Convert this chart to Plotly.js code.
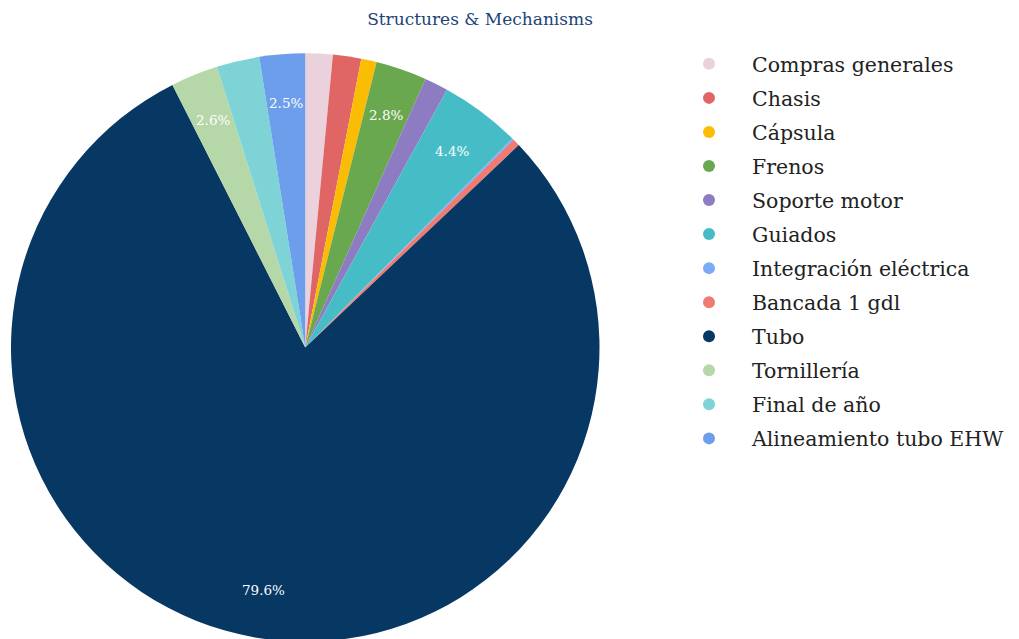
<!DOCTYPE html>
<html>
<head>
<meta charset="utf-8">
<script src="https://cdn.plot.ly/plotly-3.0.1.min.js"></script>
<style>
html,body{margin:0;padding:0;overflow:hidden;background:#fff;}
#chart{width:1019px;height:642px;}
</style>
</head>
<body>
<div id="chart"></div>
<script>
const categories = ["Compras generales","Chasis","Cápsula","Frenos","Soporte motor","Guiados","Integración eléctrica","Bancada 1 gdl","Tubo","Tornillería","Final de año","Alineamiento tubo EHW"];
const shares = [1.5, 1.55, 0.85, 2.8, 1.3, 4.42, 0.1, 0.4, 79.6, 2.6, 2.35, 2.5];
const colors = ["#EAD1DC","#E06666","#FBBC04","#6AA84F","#8E7CC3","#46BDC6","#7BAAF7","#F07B72","#073763","#B6D7A8","#7ED3D7","#6D9EEB"];
const chartTitle = "Structures & Mechanisms";

const total = shares.reduce((a,b)=>a+b,0);
const serif = "Georgia, 'DejaVu Serif', serif";

const W = 1019, H = 642;
const cx = 305.25, cy = 347.5, R = 294.25;

// percentage labels placed toward the rim of each slice, like the original
const annotations = [];
let cum = 0;
shares.forEach(v => {
  const frac = v / total;
  const mid = (cum + frac / 2) * 2 * Math.PI;
  cum += frac;
  if (frac < 0.0245) return;
  const r = 0.835 * R;
  const px = cx + r * Math.sin(mid);
  const py = cy - r * Math.cos(mid);
  annotations.push({
    xref: "paper", yref: "paper", x: px / W, y: 1 - py / H,
    xanchor: "center", yanchor: "middle", showarrow: false,
    text: (frac * 100).toFixed(1) + "%",
    font: {family: serif, size: 13.5, color: "#ffffff"}
  });
});

const traces = [{
  type: "pie",
  labels: categories,
  values: shares,
  sort: false,
  direction: "clockwise",
  rotation: 0,
  marker: {colors: colors, line: {width: 0}},
  textinfo: "none",
  hoverinfo: "none",
  showlegend: false,
  domain: {x: [(cx-R)/W, (cx+R)/W], y: [(H-cy-R)/H, (H-cy+R)/H]}
}];
categories.forEach((c,i) => {
  traces.push({type:"scatter", mode:"markers", x:[null], y:[null], name:c,
    legendgroup: "g" + i,
    marker:{size:12, color:colors[i], symbol:"circle"}, hoverinfo:"none"});
});

const layout = {
  width: W, height: H,
  margin: {l:0, r:0, t:0, b:0},
  paper_bgcolor: "#ffffff",
  plot_bgcolor: "#ffffff",
  title: {text: chartTitle, x: 480/W, xanchor: "center", y: 1-19/H, yanchor: "middle",
    font: {family: serif, size: 17, color: "#1c4478"}},
  xaxis: {visible: false}, yaxis: {visible: false},
  showlegend: true,
  annotations: annotations,
  legend: {x: 666/W, xanchor: "left", y: 1-44/H, yanchor: "top",
    font: {family: serif, size: 20.5, color: "#222222"},
    bgcolor: "rgba(0,0,0,0)", itemwidth: 76, tracegroupgap: 4.4}
};
Plotly.newPlot("chart", traces, layout, {displayModeBar: false, staticPlot: true});
</script>
</body>
</html>
